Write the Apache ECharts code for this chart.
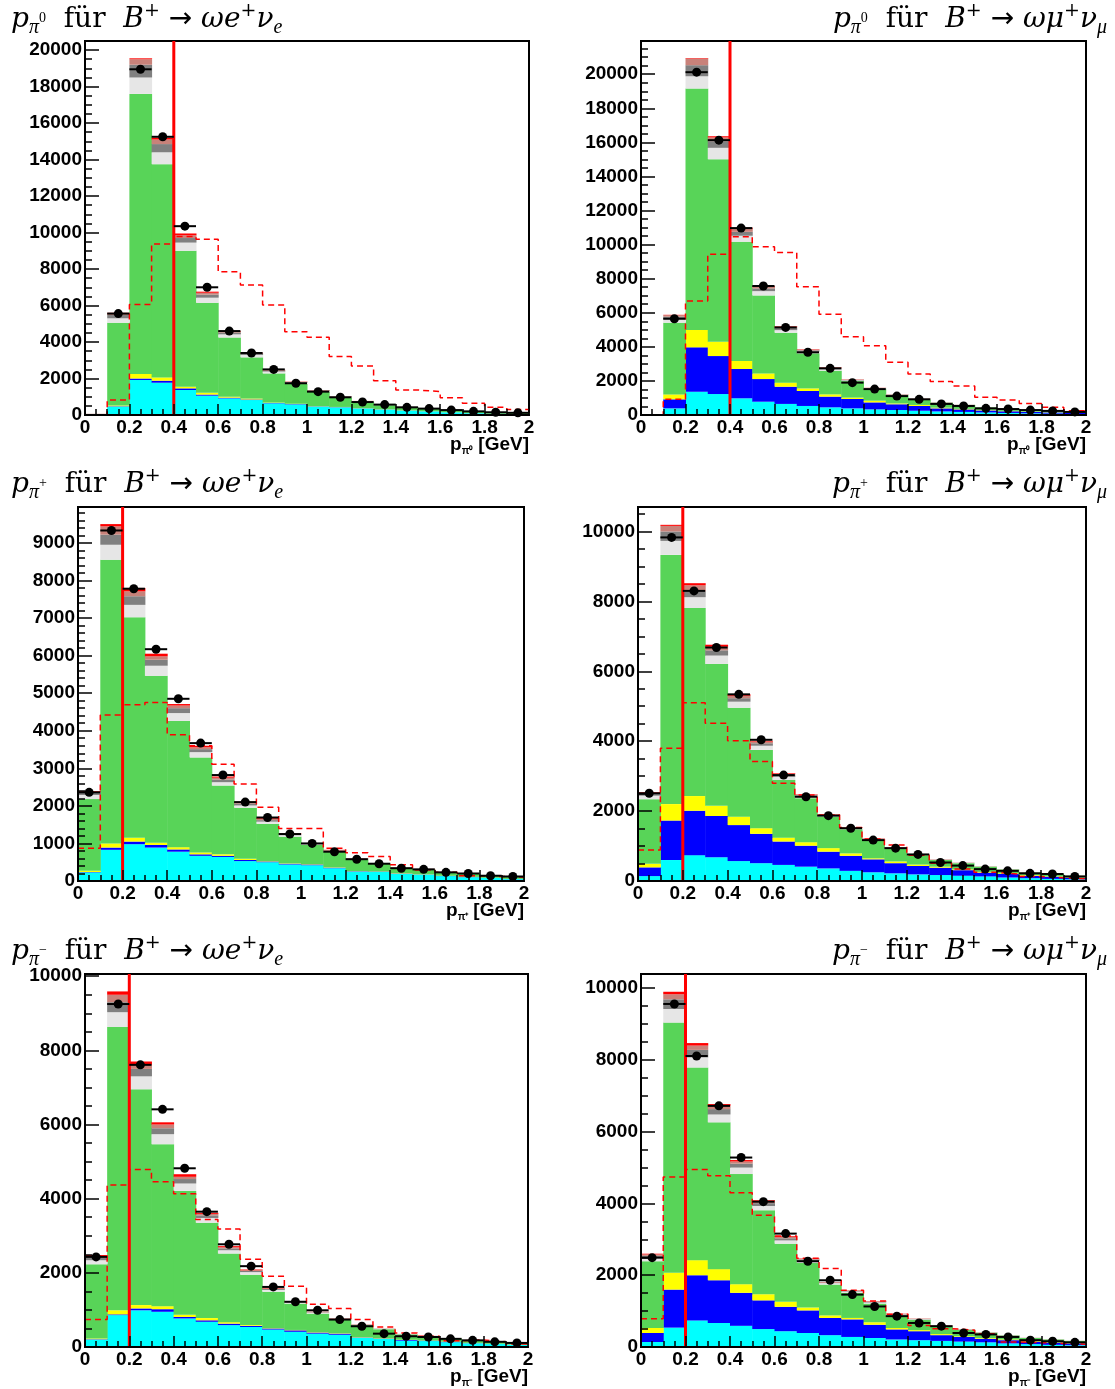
<!DOCTYPE html>
<html><head><meta charset="utf-8">
<script src="https://cdn.jsdelivr.net/npm/echarts@6/dist/echarts.min.js"></script>
<style>html,body{margin:0;padding:0;background:#fff}#c{width:1115px;height:1389px}</style>
</head><body><div id="c"></div><script>
// ---------- bins ----------
const binLow = [0,0.1,0.2,0.3,0.4,0.5,0.6,0.7,0.8,0.9,1.0,1.1,1.2,1.3,1.4,1.5,1.6,1.7,1.8,1.9];
const binWidth = 0.1;

// ---------- panel 1: p_pi0, B+ -> omega e nu ----------
const tlCyan   = [20,460,1920,1770,1370,1060,910,820,640,580,460,420,360,300,240,200,150,100,70,50];
const tlBlue   = [5,20,80,110,90,60,40,30,20,20,15,12,10,8,6,5,4,3,2,2];
const tlYellow = [5,40,250,180,90,100,50,50,20,15,10,10,10,8,6,5,4,3,2,2];
const tlGreen  = [20,4540,15350,11690,7450,4930,3250,2260,1600,1085,795,528,340,224,178,130,102,84,66,56];
const tlLgray  = [5,240,900,650,450,280,170,130,100,70,40,30,25,20,15,10,8,6,5,4];
const tlGray   = [5,180,700,450,250,170,100,60,50,35,25,20,15,10,8,6,5,4,3,2];
const tlRosy   = [3,90,300,250,150,100,60,40,30,20,15,10,8,6,4,3,3,2,2,1];
const tlRed    = [2,30,50,100,100,60,30,20,15,10,8,6,4,3,2,2,1,1,1,1];
const tlData   = [null,5560,18950,15250,10350,7000,4600,3400,2500,1740,1280,970,710,570,420,350,270,200,150,120];
const tlDashed = [0,820,6060,9370,9780,9630,7850,7120,6030,4570,4260,3200,2680,1880,1370,1280,950,640,420,300];

// ---------- panel 2: p_pi0, B+ -> omega mu nu ----------
const trCyan   = [10,390,1370,1230,980,780,650,530,450,390,330,290,250,210,180,150,120,100,80,60];
const trBlue   = [10,530,2600,2230,1720,1330,1010,880,630,550,410,340,280,180,150,120,100,80,70,60];
const trYellow = [5,290,1020,840,470,330,240,150,130,80,100,50,60,40,30,30,20,20,10,10];
const trGreen  = [15,4210,14170,10710,7000,4580,2930,2060,1390,970,680,490,330,290,230,150,120,100,80,70];
const trLgray  = [3,190,720,670,350,250,150,100,80,40,40,30,20,15,10,8,6,5,4,3];
const trGray   = [2,160,650,390,230,160,120,70,60,30,20,15,10,8,6,5,4,3,2,2];
const trRosy   = [1,90,390,220,180,100,80,50,40,20,15,10,8,6,4,3,3,2,2,1];
const trRed    = [1,20,30,70,60,40,30,20,20,10,5,5,4,3,2,2,1,1,1,1];
const trData   = [null,5650,20120,16130,10970,7570,5140,3680,2740,1900,1520,1110,920,650,530,390,350,290,240,180];
const trDashed = [0,920,6690,9440,10460,9870,9540,7530,5920,4590,4070,3090,2400,1960,1700,1040,880,680,450,250];

// ---------- panel 3: p_pi+, B+ -> omega e nu ----------
const mlCyan   = [230,830,980,890,780,670,640,530,500,440,420,340,250,240,190,170,130,100,80,50];
const mlBlue   = [10,60,70,70,60,40,30,30,20,20,20,15,10,10,10,5,5,5,3,3];
const mlYellow = [30,110,100,60,60,50,40,30,10,10,10,10,5,5,10,5,5,5,2,2];
const mlGreen  = [1910,7550,5870,4440,3360,2530,1830,1360,990,710,510,415,315,205,150,130,100,90,65,65];
const mlLgray  = [110,400,330,270,210,140,90,60,60,40,20,20,10,8,6,5,4,3,2,2];
const mlGray   = [60,270,230,160,130,80,70,50,40,20,10,10,5,4,3,3,2,2,1,1];
const mlRosy   = [20,220,130,90,70,50,50,30,30,20,10,10,5,3,2,2,2,1,1,1];
const mlRed    = [20,60,90,70,40,40,30,20,20,10,10,10,5,3,2,2,1,1,1,1];
const mlData   = [2360,9330,7780,6170,4850,3670,2820,2100,1690,1250,1000,780,580,460,340,310,230,200,140,120];
const mlDashed = [870,4420,4690,4750,3890,3600,3110,2580,1960,1400,1400,870,750,650,430,290,230,140,120,100];

// ---------- panel 4: p_pi+, B+ -> omega mu nu ----------
const mrCyan   = [140,600,740,680,570,510,460,410,360,290,250,220,190,170,150,130,100,80,60,50];
const mrBlue   = [250,1130,1270,1180,1030,840,670,600,480,430,370,290,240,210,160,110,100,70,60,40];
const mrYellow = [100,470,420,290,240,160,110,100,100,70,30,50,40,30,20,20,20,20,10,10];
const mrGreen  = [1850,7130,5380,4060,3120,2240,1650,1260,900,690,520,360,270,190,180,150,110,70,70,50];
const mrLgray  = [100,400,310,240,170,120,90,50,30,25,20,15,10,8,6,5,4,3,2,2];
const mrGray   = [50,270,170,150,100,70,50,30,20,15,15,10,8,5,4,3,3,2,2,1];
const mrRosy   = [30,160,170,100,70,50,30,20,15,10,10,8,5,4,3,2,2,2,1,1];
const mrRed    = [20,30,60,60,40,20,20,10,10,10,5,5,4,3,2,2,1,1,1,1];
const mrData   = [2510,9830,8300,6680,5340,4040,3030,2410,1870,1510,1170,940,760,530,440,340,290,220,200,130];
const mrDashed = [890,3800,5100,4510,4010,3420,2800,2460,1890,1530,1200,1030,740,510,340,250,200,130,90,60];

// ---------- panel 5: p_pi-, B+ -> omega e nu ----------
const blCyan   = [200,860,990,950,770,680,590,540,470,410,360,330,250,220,170,160,130,100,80,60];
const blBlue   = [10,20,50,70,40,40,40,30,30,40,30,30,10,10,20,10,10,5,3,3];
const blYellow = [20,110,90,80,60,60,40,20,10,10,10,10,10,10,5,5,5,5,2,2];
const blGreen  = [2000,7640,5820,4370,3340,2570,1850,1360,980,710,500,370,320,240,145,115,85,70,55,45];
const blLgray  = [110,400,350,270,200,130,90,70,50,30,25,15,10,8,6,5,4,3,2,2];
const blGray   = [70,270,200,160,120,70,50,30,25,15,10,8,5,4,3,3,2,2,1,1];
const blRosy   = [40,200,110,100,60,40,30,20,15,10,10,5,4,3,2,2,2,1,1,1];
const blRed    = [30,90,90,60,70,30,30,20,10,10,5,5,3,2,2,1,1,1,1,1];
const blData   = [2430,9250,7610,6410,4820,3650,2770,2180,1620,1220,990,740,560,360,290,270,220,180,140,110];
const blDashed = [740,4370,4790,4460,4130,3440,3180,2370,1910,1640,1150,1040,740,540,380,290,170,190,140,80];

// ---------- panel 6: p_pi-, B+ -> omega mu nu ----------
const brCyan   = [140,540,740,670,590,500,440,390,330,280,250,210,190,170,150,130,100,80,60,50];
const brBlue   = [250,1060,1260,1190,920,800,680,630,480,490,370,280,250,160,130,100,90,70,60,50];
const brYellow = [140,470,420,310,240,170,140,80,70,40,70,40,30,30,20,20,20,20,10,10];
const brGreen  = [1860,6970,5370,4090,3070,2340,1620,1240,860,700,520,350,290,220,180,150,110,80,80,60];
const brLgray  = [90,380,280,220,180,120,90,60,40,35,30,25,15,10,8,6,5,4,3,2];
const brGray   = [60,270,210,150,110,80,60,40,15,15,20,10,8,6,4,3,3,2,2,1];
const brRosy   = [40,140,120,90,60,50,40,20,10,15,15,10,5,4,3,2,2,2,1,1];
const brRed    = [20,70,70,50,40,30,20,10,5,5,5,5,4,3,2,2,1,1,1,1];
const brData   = [2490,9560,8110,6720,5280,4050,3160,2390,1860,1460,1130,860,670,580,390,350,280,190,160,130];
const brDashed = [790,4740,4950,4770,4300,3670,3090,2470,2190,1580,1280,910,600,510,470,370,140,120,100,80];

// ---------- styling ----------
const layerColors = ['#00ffff','#0000ff','#ffff00','#58d458','#e6e6e6','#808080','#c8827a','#ff0000'];
const SANS = 'Liberation Sans, Arial, sans-serif';
const SERIF = 'DejaVu Serif, Liberation Serif, serif';
const SUBSERIF = 'Liberation Serif, DejaVu Serif, serif';

const tE = '{i|ωe}{u|+}{i|ν}{s|e}';
const tM = '{i|ωμ}{u|+}{i|ν}{s|μ}';
const panels = [
  {layers:[tlCyan,tlBlue,tlYellow,tlGreen,tlLgray,tlGray,tlRosy,tlRed], data:tlData, dashed:tlDashed,
   grid:{left:85,top:41,width:444,height:374}, ymax:20500, yInt:2000, yMinor:500, cut:0.4,
   title:'{i|p}{s|π}{z|0}{r|  für  }{i|B}{u|+}{a| → }'+tE, tpos:{left:11,top:2},
   xname:'{b|p}{bs|π⁰} {b|[GeV]}'},
  {layers:[trCyan,trBlue,trYellow,trGreen,trLgray,trGray,trRosy,trRed], data:trData, dashed:trDashed,
   grid:{left:641,top:41,width:445,height:374}, ymax:21950, yInt:2000, yMinor:500, cut:0.4,
   title:'{i|p}{s|π}{z|0}{r|  für  }{i|B}{u|+}{a| → }'+tM, tpos:{right:8,top:2},
   xname:'{b|p}{bs|π⁰} {b|[GeV]}'},
  {layers:[mlCyan,mlBlue,mlYellow,mlGreen,mlLgray,mlGray,mlRosy,mlRed], data:mlData, dashed:mlDashed,
   grid:{left:78,top:507,width:446,height:374}, ymax:9955, yInt:1000, yMinor:200, cut:0.2,
   title:'{i|p}{s|π}{z|+}{r|  für  }{i|B}{u|+}{a| → }'+tE, tpos:{left:11,top:467},
   xname:'{b|p}{bs|π⁺} {b|[GeV]}'},
  {layers:[mrCyan,mrBlue,mrYellow,mrGreen,mrLgray,mrGray,mrRosy,mrRed], data:mrData, dashed:mrDashed,
   grid:{left:638,top:507,width:448,height:374}, ymax:10700, yInt:2000, yMinor:500, cut:0.2,
   title:'{i|p}{s|π}{z|+}{r|  für  }{i|B}{u|+}{a| → }'+tM, tpos:{right:8,top:467},
   xname:'{b|p}{bs|π⁺} {b|[GeV]}'},
  {layers:[blCyan,blBlue,blYellow,blGreen,blLgray,blGray,blRosy,blRed], data:blData, dashed:blDashed,
   grid:{left:85,top:974,width:443,height:373}, ymax:10060, yInt:2000, yMinor:500, cut:0.2,
   title:'{i|p}{s|π}{z|−}{r|  für  }{i|B}{u|+}{a| → }'+tE, tpos:{left:11,top:934},
   xname:'{b|p}{bs|π⁻} {b|[GeV]}'},
  {layers:[brCyan,brBlue,brYellow,brGreen,brLgray,brGray,brRosy,brRed], data:brData, dashed:brDashed,
   grid:{left:641,top:974,width:445,height:373}, ymax:10395, yInt:2000, yMinor:500, cut:0.2,
   title:'{i|p}{s|π}{z|−}{r|  für  }{i|B}{u|+}{a| → }'+tM, tpos:{right:8,top:934},
   xname:'{b|p}{bs|π⁻} {b|[GeV]}'}
];

const TF = 28;
const titleRich = {
  i:{fontFamily:SERIF,fontStyle:'italic',fontWeight:'normal',fontSize:TF,lineHeight:36,color:'#000'},
  r:{fontFamily:SERIF,fontWeight:'normal',fontSize:TF,lineHeight:36,color:'#000'},
  a:{fontFamily:'DejaVu Sans, sans-serif',fontWeight:'normal',fontSize:TF,lineHeight:36,color:'#000'},
  s:{fontFamily:SUBSERIF,fontStyle:'italic',fontWeight:'normal',fontSize:20,lineHeight:16,verticalAlign:'bottom',color:'#000'},
  z:{fontFamily:SUBSERIF,fontWeight:'normal',fontSize:14,lineHeight:14,verticalAlign:'middle',padding:[0,0,4,0],color:'#000'},
  u:{fontFamily:SERIF,fontWeight:'normal',fontSize:19,lineHeight:18,verticalAlign:'top',color:'#000'}
};
const nameRich = {
  b:{fontFamily:SANS,fontWeight:'bold',fontSize:19,lineHeight:22,color:'#000'},
  bs:{fontFamily:SANS,fontWeight:'bold',fontSize:10,lineHeight:10,verticalAlign:'bottom',color:'#000'}
};
const labelFont = {color:'#000',fontFamily:SANS,fontWeight:'bold',fontSize:19};

const grids=[], xAxes=[], yAxes=[], series=[], titles=[];
panels.forEach((p, k) => {
  grids.push(Object.assign({show:true,borderColor:'#000',borderWidth:2,backgroundColor:'transparent',containLabel:false}, p.grid));
  const axLine = {show:true,lineStyle:{color:'#000',width:2}};
  xAxes.push({gridIndex:k,type:'value',min:0,max:2,interval:0.2,position:'bottom',z:10,
    axisLine:axLine,axisTick:{show:true,inside:true,length:11,lineStyle:{color:'#000',width:1.5}},
    axisLabel:Object.assign({show:true,margin:3,formatter:v=>String(+v.toFixed(1))}, labelFont),
    splitLine:{show:false}});
  xAxes.push({gridIndex:k,type:'value',min:0,max:2,interval:0.05,position:'bottom',z:10,
    axisLine:{show:false},axisTick:{show:true,inside:true,length:6,lineStyle:{color:'#000',width:1.5}},
    axisLabel:{show:false},splitLine:{show:false}});
  yAxes.push({gridIndex:k,type:'value',min:0,max:p.ymax,interval:p.yInt,position:'left',z:10,
    axisLine:axLine,axisTick:{show:true,inside:true,length:14,lineStyle:{color:'#000',width:1.5}},
    axisLabel:Object.assign({show:true,margin:3,showMaxLabel:false,formatter:v=>String(Math.round(v))}, labelFont),
    splitLine:{show:false}});
  yAxes.push({gridIndex:k,type:'value',min:0,max:p.ymax,interval:p.yMinor,position:'left',z:10,
    axisLine:{show:false},axisTick:{show:true,inside:true,length:7,lineStyle:{color:'#000',width:1.5}},
    axisLabel:{show:false},splitLine:{show:false}});
  const xi = 2*k, yi = 2*k;
  // stacked layers
  const base = binLow.map(() => 0);
  p.layers.forEach((vals, li) => {
    const rows = binLow.map((lo, i) => { const r = [lo, lo+binWidth, base[i], base[i]+vals[i]]; base[i] += vals[i]; return r; });
    const col = layerColors[li];
    series.push({type:'custom',xAxisIndex:xi,yAxisIndex:yi,z:2,silent:true,
      encode:{x:[0,1],y:[2,3]},data:rows,
      renderItem:(params, api) => {
        const a = api.coord([api.value(0), api.value(2)]);
        const b = api.coord([api.value(1), api.value(3)]);
        return {type:'rect',shape:{x:a[0],y:b[1],width:b[0]-a[0]+0.5,height:a[1]-b[1]},style:{fill:col}};
      }});
  });
  // dashed signal histogram
  const dash = binLow.map((lo,i)=>[lo,p.dashed[i]]);
  dash.push([binLow[binLow.length-1]+binWidth, p.dashed[p.dashed.length-1]]);
  series.push({type:'line',xAxisIndex:xi,yAxisIndex:yi,z:4,step:'end',symbol:'none',silent:true,data:dash,
    lineStyle:{color:'#ff0000',width:1.5,type:[6,4]}});
  // cut line
  series.push({type:'line',xAxisIndex:xi,yAxisIndex:yi,z:5,symbol:'none',silent:true,
    data:[[p.cut,0],[p.cut,p.ymax]],lineStyle:{color:'#ff0000',width:3}});
  // data points
  const pts = binLow.map((lo,i)=>[lo+binWidth/2,p.data[i]]).filter(d=>d[1]!=null);
  series.push({type:'custom',xAxisIndex:xi,yAxisIndex:yi,z:6,silent:true,data:pts,encode:{x:0,y:1},
    renderItem:(params, api) => {
      const x = api.value(0), y = api.value(1);
      const c = api.coord([x,y]), l = api.coord([x-binWidth/2,y]), r = api.coord([x+binWidth/2,y]);
      return {type:'group',children:[
        {type:'line',shape:{x1:l[0],y1:l[1],x2:r[0],y2:r[1]},style:{stroke:'#000',lineWidth:2}},
        {type:'circle',shape:{cx:c[0],cy:c[1],r:4.5},style:{fill:'#000'}}
      ]};
    }});
  titles.push(Object.assign({text:p.title,padding:0,textStyle:{fontWeight:'normal',rich:titleRich}}, p.tpos));
  const g = p.grid;
  titles.push({text:p.xname,padding:0,right:1115-(g.left+g.width),top:g.top+g.height+19,textStyle:{fontWeight:'bold',rich:nameRich}});
});

const chart = echarts.init(document.getElementById('c'), null, {renderer:'canvas'});
chart.setOption({animation:false,backgroundColor:'#fff',title:titles,grid:grids,xAxis:xAxes,yAxis:yAxes,series:series});
</script></body></html>
